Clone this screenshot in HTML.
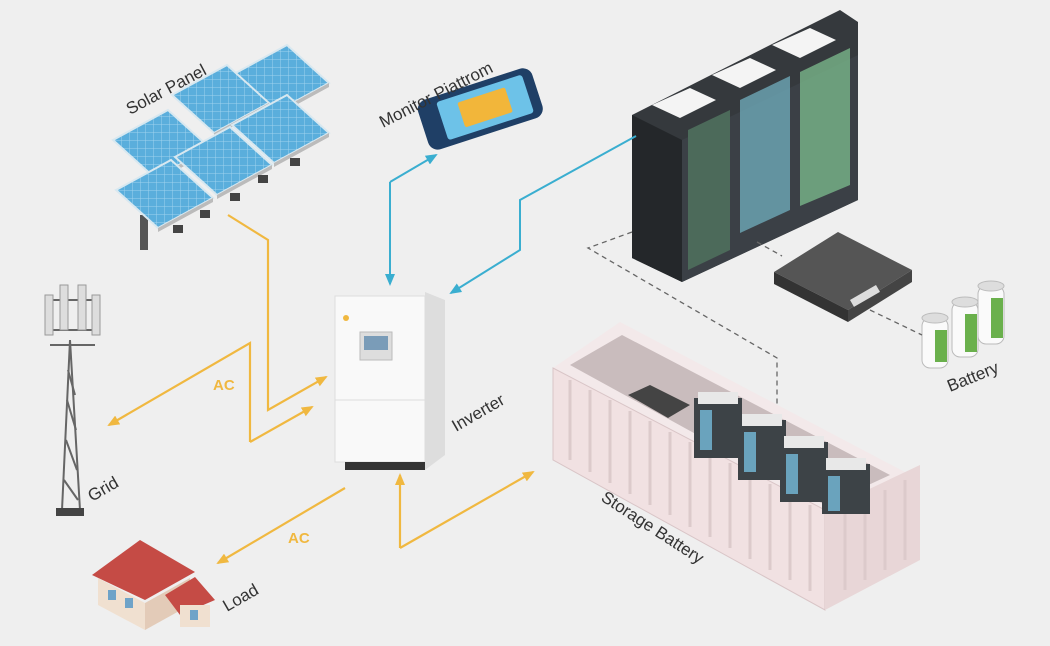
<!DOCTYPE html>
<html><head><meta charset="utf-8"><style>
html,body{margin:0;padding:0;background:#efefef;}
svg{display:block}
text{font-family:"Liberation Sans",sans-serif;fill:#333;}
</style></head><body>
<svg width="1050" height="646" viewBox="0 0 1050 646" xmlns="http://www.w3.org/2000/svg">
<defs>
<pattern id="grid" width="8" height="8" patternUnits="userSpaceOnUse"><rect width="8" height="8" fill="#5aaedc"/><path d="M0 0H8M0 0V8" stroke="#9fd3ee" stroke-width="1"/></pattern>
<g id="panel"><polygon points="0,0 55,-30 97,8 42,38" fill="url(#grid)" stroke="#d8e8f0" stroke-width="2"/><polygon points="42,38 97,8 97,12 42,42" fill="#bbb"/></g>
<marker id="ay" markerUnits="userSpaceOnUse" markerWidth="12" markerHeight="10" refX="10" refY="5" orient="auto"><path d="M0,0 L12,5 L0,10z" fill="#f0b840"/></marker>
<marker id="ab" markerUnits="userSpaceOnUse" markerWidth="12" markerHeight="10" refX="10" refY="5" orient="auto"><path d="M0,0 L12,5 L0,10z" fill="#3aaed0"/></marker>
</defs>
<rect width="1050" height="646" fill="#efefef"/>

<!-- solar -->
<rect x="140" y="215" width="8" height="35" fill="#555"/>
<g transform="translate(232,75)"><use href="#panel"/></g>
<g transform="translate(172,95)"><use href="#panel"/></g>
<g transform="translate(113,140)"><use href="#panel"/></g>
<g transform="translate(232,125)"><use href="#panel"/></g>
<g transform="translate(175,157)"><use href="#panel"/></g>
<g transform="translate(116,190)"><use href="#panel"/></g>
<rect x="290" y="158" width="10" height="8" fill="#444"/><rect x="258" y="175" width="10" height="8" fill="#444"/><rect x="230" y="193" width="10" height="8" fill="#444"/><rect x="200" y="210" width="10" height="8" fill="#444"/><rect x="173" y="225" width="10" height="8" fill="#444"/>
<text transform="translate(130,115) rotate(-28)" font-size="17">Solar Panel</text>

<!-- phone -->
<g transform="translate(480,108) rotate(-18)">
<rect x="-60" y="-25" width="120" height="52" rx="10" fill="#1f3f66"/>
<rect x="-40" y="-19" width="90" height="40" rx="3" fill="#6dc2e8"/>
<rect x="-20" y="-12" width="50" height="26" rx="2" fill="#f2b63a"/>
</g>
<text transform="translate(383,128) rotate(-27)" font-size="17">Monitor Piattrom</text>

<!-- rack -->
<polygon points="632,115 780,40 840,10 858,22 858,200 682,282 632,258" fill="#35393d"/>
<polygon points="632,115 682,140 682,282 632,258" fill="#24272a"/>
<polygon points="682,140 858,55 858,200 682,282" fill="#3b4046"/>
<polygon points="740,100 790,76 790,210 740,233" fill="#6ea7b6" opacity="0.8"/>
<polygon points="800,72 850,48 850,185 800,206" fill="#79b58a" opacity="0.8"/>
<polygon points="688,130 730,110 730,250 688,270" fill="#4c6a5a"/>
<polygon points="652,105 690,88 716,100 680,118" fill="#f4f4f4"/>
<polygon points="712,75 750,58 776,70 740,88" fill="#f4f4f4"/>
<polygon points="772,45 810,28 836,40 800,58" fill="#f4f4f4"/>
<!-- box -->
<polygon points="774,272 838,232 912,270 848,310" fill="#555"/>
<polygon points="774,272 848,310 848,322 774,284" fill="#333"/>
<polygon points="848,310 912,270 912,282 848,322" fill="#444"/>
<rect x="850" y="300" width="30" height="8" fill="#ddd" transform="rotate(-30 850 300)"/>
<!-- batteries -->
<g stroke="#bbb"><rect x="922" y="318" width="26" height="50" rx="8" fill="#fafafa"/><ellipse cx="935" cy="318" rx="13" ry="5" fill="#ddd"/></g><rect x="935" y="330" width="12" height="32" fill="#6ab04c"/>
<g stroke="#bbb"><rect x="952" y="302" width="26" height="55" rx="8" fill="#fafafa"/><ellipse cx="965" cy="302" rx="13" ry="5" fill="#ddd"/></g><rect x="965" y="314" width="12" height="38" fill="#6ab04c"/>
<g stroke="#bbb"><rect x="978" y="286" width="26" height="58" rx="8" fill="#fafafa"/><ellipse cx="991" cy="286" rx="13" ry="5" fill="#ddd"/></g><rect x="991" y="298" width="12" height="40" fill="#6ab04c"/>
<text transform="translate(950,392) rotate(-22)" font-size="17">Battery</text>

<!-- dashed -->
<g stroke="#666" stroke-width="1.3" stroke-dasharray="5,4" fill="none">
<path d="M632,232 L588,248 L777,358 L777,415"/>
<path d="M757,242 L782,256"/><path d="M870,310 L922,335"/>
</g>

<!-- container -->
<polygon points="553,368 620,322 920,480 920,515 825,610 553,460" fill="#f3e9ea"/>
<polygon points="553,368 825,510 825,610 553,460" fill="#f1e1e2" stroke="#d9c5c7"/>
<polygon points="825,510 920,465 920,560 825,610" fill="#e8d6d7"/>
<polygon points="570,365 622,335 890,475 825,505" fill="#c9bcbd"/>
<g stroke="#dccacb" stroke-width="3">
<path d="M570,380V460M590,390V472M610,400V483M630,411V494M650,421V505M670,432V515M690,442V527M710,453V537M730,463V548M750,474V559M770,484V570M790,495V580M810,505V591"/>
<path d="M845,510V590M865,500V580M885,490V570M905,480V560"/>
</g>
<polygon points="628,395 650,385 690,405 668,418" fill="#444"/>
<g fill="#3d4347"><rect x="694" y="398" width="48" height="60"/><rect x="738" y="420" width="48" height="60"/><rect x="780" y="442" width="48" height="60"/><rect x="822" y="464" width="48" height="50"/></g>
<g fill="#e8e8e8"><rect x="698" y="392" width="40" height="12"/><rect x="742" y="414" width="40" height="12"/><rect x="784" y="436" width="40" height="12"/><rect x="826" y="458" width="40" height="12"/></g>
<g fill="#6aa3bd"><rect x="700" y="410" width="12" height="40"/><rect x="744" y="432" width="12" height="40"/><rect x="786" y="454" width="12" height="40"/><rect x="828" y="476" width="12" height="35"/></g>
<text transform="translate(600,500) rotate(33)" font-size="17">Storage Battery</text>

<!-- inverter -->
<polygon points="425,292 445,300 445,455 425,470" fill="#ddd"/>
<rect x="335" y="296" width="90" height="166" fill="#f9f9f9" stroke="#ddd"/>
<line x1="335" y1="400" x2="425" y2="400" stroke="#ddd"/>
<rect x="360" y="332" width="32" height="28" fill="#ddd" stroke="#bbb"/>
<rect x="364" y="336" width="24" height="14" fill="#7a9cb8"/>
<rect x="345" y="462" width="80" height="8" fill="#333"/>
<circle cx="346" cy="318" r="3" fill="#f0b840"/>
<text transform="translate(456,432) rotate(-30)" font-size="17">Inverter</text>

<!-- tower -->
<g stroke="#666" stroke-width="2" fill="none">
<path d="M62,510 L70,340 L80,510"/><path d="M64,480 L78,500 M66,440 L77,470 M67,400 L76,430 M68,370 L75,395"/>
<path d="M50,300 L100,300 M48,330 L100,330 M50,345 L95,345"/>
</g>
<g fill="#ddd" stroke="#999"><rect x="45" y="295" width="8" height="40"/><rect x="60" y="285" width="8" height="45"/><rect x="78" y="285" width="8" height="45"/><rect x="92" y="295" width="8" height="40"/></g>
<rect x="56" y="508" width="28" height="8" fill="#444"/>
<text transform="translate(92,502) rotate(-30)" font-size="17">Grid</text>

<!-- house -->
<polygon points="92,575 140,540 195,572 145,600" fill="#c54b45"/>
<polygon points="98,578 145,603 145,630 98,605" fill="#f0e0d0"/>
<polygon points="145,603 190,578 190,605 145,630" fill="#e3cbb8"/>
<polygon points="165,595 195,577 215,600 180,615" fill="#c54b45"/>
<rect x="180" y="605" width="30" height="22" fill="#f0e0d0"/>
<rect x="108" y="590" width="8" height="10" fill="#6fa3c8"/><rect x="125" y="598" width="8" height="10" fill="#6fa3c8"/><rect x="190" y="610" width="8" height="10" fill="#6fa3c8"/>
<text transform="translate(227,612) rotate(-30)" font-size="17">Load</text>

<!-- yellow lines -->
<g stroke="#f0b840" stroke-width="2.2" fill="none">
<path d="M228,215 L268,240 L268,410 L326,377" marker-end="url(#ay)"/>
<path d="M250,442 L250,343 L109,425" marker-end="url(#ay)"/>
<path d="M250,442 L312,407" marker-end="url(#ay)"/>
<path d="M345,488 L218,563" marker-end="url(#ay)"/>
<path d="M400,548 L400,475" marker-end="url(#ay)"/>
<path d="M400,548 L533,472" marker-end="url(#ay)"/>
</g>
<text x="213" y="390" font-size="15" font-weight="bold" style="fill:#f0b840">AC</text>
<text x="288" y="543" font-size="15" font-weight="bold" style="fill:#f0b840">AC</text>

<!-- blue lines -->
<g stroke="#3aaed0" stroke-width="2" fill="none">
<path d="M390,182 L436,155" marker-end="url(#ab)"/>
<path d="M390,182 L390,284" marker-end="url(#ab)"/>
<path d="M636,136 L520,200 L520,250 L451,293" marker-end="url(#ab)"/>
</g>
</svg>
</body></html>
